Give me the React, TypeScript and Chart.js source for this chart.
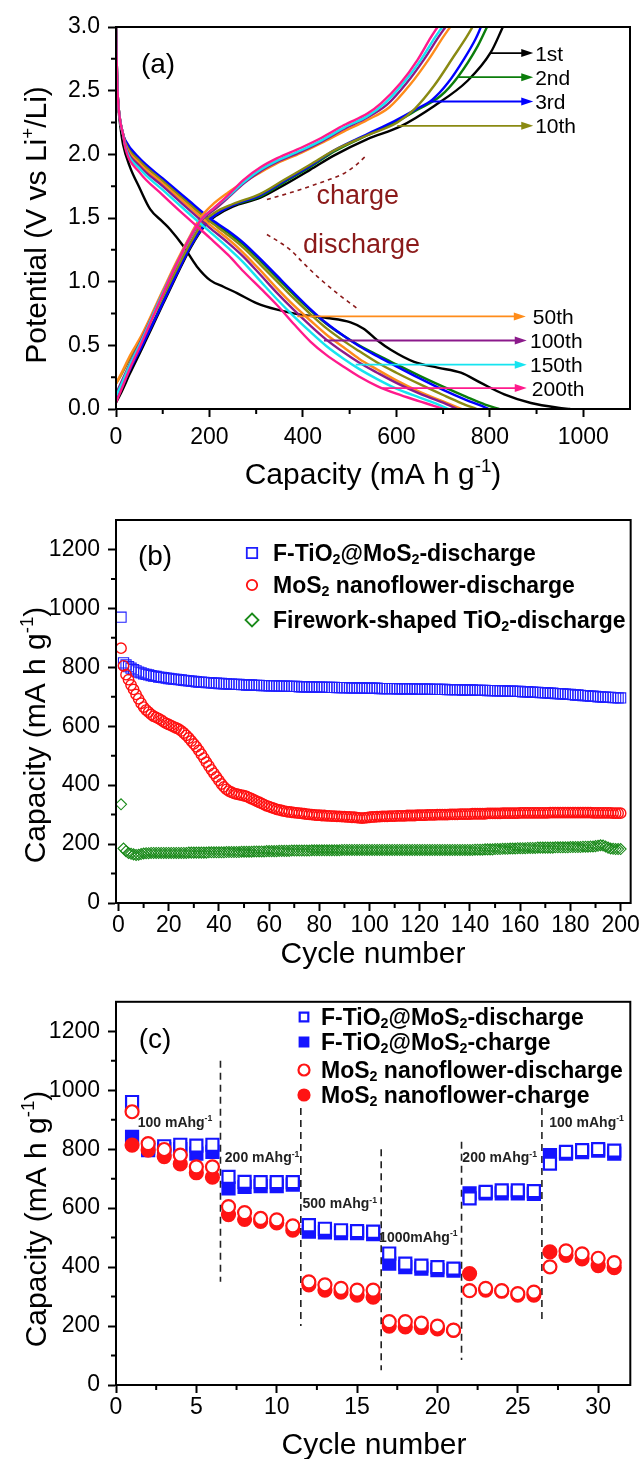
import React, { useEffect, useRef } from 'react';
import { Chart, registerables } from 'chart.js';

Chart.register(...registerables);

const FONT = '"Liberation Sans", Arial, Helvetica, sans-serif';

type XY = [number, number];

// ---------------- Panel (a) data: galvanostatic curves ----------------
const CYCLE_LABELS = ['1st', '2nd', '3rd', '10th', '50th', '100th', '150th', '200th'];
const CYCLE_COLORS = ['#000000', '#0b7d0b', '#0000ff', '#8a8a12', '#ff8c1a', '#8b1a8b', '#16e4f0', '#ff1a8c'];

const DIS_1ST: XY[] = [[0, 3.0], [1, 2.75], [3, 2.5], [6, 2.33], [10, 2.2], [15, 2.08], [30, 1.9], [50, 1.74], [73, 1.57], [100, 1.47], [116, 1.41], [144, 1.28], [173, 1.12], [202, 1.01], [230, 0.96], [259, 0.91], [302, 0.83], [345, 0.78], [388, 0.745], [452, 0.715], [502, 0.68], [530, 0.63], [559, 0.54], [588, 0.465], [638, 0.37], [688, 0.325], [738, 0.285], [781, 0.205], [831, 0.115], [888, 0.047], [946, 0.01], [972, 0]];
const DIS_2ND: XY[] = [[0, 3.0], [1, 2.8], [3, 2.52], [6, 2.35], [10, 2.24], [15, 2.16], [20, 2.1], [50, 1.96], [100, 1.8], [150, 1.645], [200, 1.49], [240, 1.385], [273, 1.29], [310, 1.16], [345, 1.03], [380, 0.9], [416, 0.775], [450, 0.67], [487, 0.575], [520, 0.5], [559, 0.425], [600, 0.35], [650, 0.26], [700, 0.175], [750, 0.095], [790, 0.035], [820, 0]];
const DIS_3RD: XY[] = [[0, 3.0], [1, 2.8], [3, 2.52], [6, 2.35], [10, 2.24], [15, 2.16], [20, 2.11], [50, 1.97], [100, 1.81], [150, 1.655], [200, 1.5], [240, 1.4], [273, 1.305], [310, 1.175], [345, 1.045], [380, 0.915], [416, 0.785], [450, 0.675], [487, 0.575], [520, 0.495], [559, 0.415], [600, 0.335], [650, 0.24], [700, 0.15], [750, 0.07], [780, 0.028], [798, 0]];
const DIS_10TH: XY[] = [[0, 3.0], [1, 2.8], [3, 2.52], [6, 2.35], [10, 2.24], [15, 2.16], [20, 2.09], [50, 1.95], [100, 1.79], [150, 1.63], [200, 1.475], [240, 1.365], [273, 1.265], [310, 1.13], [345, 1.0], [380, 0.87], [416, 0.745], [450, 0.635], [487, 0.535], [520, 0.455], [559, 0.365], [600, 0.285], [650, 0.195], [700, 0.11], [740, 0.045], [772, 0]];
const DIS_50TH: XY[] = [[0, 3.0], [1, 2.8], [3, 2.52], [6, 2.35], [10, 2.24], [15, 2.16], [20, 2.08], [50, 1.93], [100, 1.77], [150, 1.61], [200, 1.45], [240, 1.335], [273, 1.225], [310, 1.085], [345, 0.945], [380, 0.815], [416, 0.695], [450, 0.585], [487, 0.485], [520, 0.395], [559, 0.31], [600, 0.225], [650, 0.135], [700, 0.06], [740, 0]];
const DIS_100TH: XY[] = [[0, 3.0], [1, 2.8], [3, 2.52], [6, 2.35], [10, 2.24], [15, 2.16], [20, 2.07], [50, 1.91], [100, 1.75], [150, 1.585], [200, 1.425], [240, 1.305], [273, 1.195], [310, 1.05], [345, 0.91], [380, 0.78], [416, 0.655], [450, 0.545], [487, 0.445], [520, 0.365], [559, 0.285], [600, 0.205], [650, 0.12], [700, 0.05], [730, 0]];
const DIS_150TH: XY[] = [[0, 3.0], [1, 2.8], [3, 2.52], [6, 2.35], [10, 2.24], [15, 2.16], [20, 2.06], [50, 1.89], [100, 1.72], [150, 1.555], [200, 1.395], [240, 1.265], [273, 1.15], [310, 1.0], [345, 0.86], [380, 0.73], [416, 0.605], [450, 0.495], [487, 0.395], [520, 0.315], [559, 0.235], [600, 0.16], [650, 0.09], [690, 0.035], [712, 0]];
const DIS_200TH: XY[] = [[0, 3.0], [1, 2.8], [3, 2.52], [6, 2.35], [10, 2.24], [15, 2.16], [20, 2.05], [50, 1.86], [100, 1.68], [150, 1.51], [202, 1.34], [240, 1.21], [273, 1.08], [310, 0.945], [345, 0.815], [380, 0.67], [416, 0.53], [450, 0.425], [488, 0.33], [520, 0.255], [559, 0.18], [600, 0.12], [650, 0.06], [680, 0.025], [700, 0]];

const CHG_1ST: XY[] = [[0, 0.05], [10, 0.12], [30, 0.28], [55, 0.47], [100, 0.82], [130, 1.05], [160, 1.27], [190, 1.44], [215, 1.52], [250, 1.59], [309, 1.66], [360, 1.76], [416, 1.88], [466, 1.99], [538, 2.12], [609, 2.22], [681, 2.38], [753, 2.58], [802, 2.8], [828, 3.0]];
const CHG_2ND: XY[] = [[0, 0.1], [10, 0.17], [30, 0.33], [55, 0.5], [100, 0.84], [130, 1.07], [160, 1.28], [190, 1.45], [215, 1.53], [250, 1.6], [309, 1.67], [360, 1.78], [416, 1.9], [466, 2.02], [538, 2.15], [595, 2.245], [645, 2.35], [695, 2.46], [732, 2.61], [774, 2.85], [794, 3.0]];
const CHG_3RD: XY[] = [[0, 0.08], [10, 0.15], [30, 0.31], [55, 0.49], [100, 0.83], [130, 1.06], [160, 1.28], [190, 1.45], [215, 1.53], [250, 1.6], [309, 1.68], [360, 1.79], [416, 1.91], [466, 2.03], [538, 2.16], [595, 2.26], [640, 2.35], [677, 2.43], [710, 2.56], [745, 2.75], [770, 2.91], [781, 3.0]];
const CHG_10TH: XY[] = [[0, 0.2], [10, 0.26], [30, 0.4], [55, 0.56], [100, 0.88], [130, 1.1], [160, 1.31], [185, 1.46], [210, 1.54], [250, 1.61], [309, 1.69], [360, 1.8], [416, 1.92], [466, 2.03], [538, 2.15], [602, 2.25], [640, 2.36], [681, 2.54], [723, 2.77], [750, 2.92], [763, 3.0]];
const CHG_50TH: XY[] = [[0, 0.2], [10, 0.27], [30, 0.42], [55, 0.58], [100, 0.93], [130, 1.16], [160, 1.37], [180, 1.5], [205, 1.6], [240, 1.7], [273, 1.78], [310, 1.86], [345, 1.93], [395, 2.01], [440, 2.09], [488, 2.18], [538, 2.27], [585, 2.37], [630, 2.55], [670, 2.75], [700, 2.92], [715, 3.0]];
const CHG_100TH: XY[] = [[0, 0.12], [10, 0.2], [30, 0.36], [55, 0.55], [100, 0.91], [130, 1.14], [160, 1.35], [185, 1.49], [212, 1.57], [240, 1.66], [273, 1.77], [310, 1.87], [345, 1.94], [395, 2.02], [440, 2.1], [488, 2.2], [538, 2.29], [580, 2.39], [622, 2.56], [660, 2.75], [690, 2.92], [705, 3.0]];
const CHG_150TH: XY[] = [[0, 0.1], [10, 0.18], [30, 0.35], [55, 0.54], [100, 0.91], [130, 1.14], [160, 1.36], [185, 1.5], [210, 1.58], [240, 1.67], [273, 1.78], [310, 1.88], [345, 1.95], [395, 2.03], [440, 2.11], [488, 2.21], [538, 2.3], [575, 2.4], [615, 2.56], [652, 2.74], [683, 2.92], [698, 3.0]];
const CHG_200TH: XY[] = [[0, 0.05], [10, 0.14], [30, 0.32], [55, 0.52], [100, 0.9], [130, 1.14], [160, 1.36], [185, 1.5], [210, 1.58], [240, 1.68], [273, 1.8], [310, 1.9], [345, 1.97], [395, 2.05], [440, 2.13], [488, 2.23], [538, 2.32], [567, 2.4], [609, 2.56], [645, 2.74], [674, 2.92], [688, 3.0]];

const DISCHARGE_CURVES = [DIS_1ST, DIS_2ND, DIS_3RD, DIS_10TH, DIS_50TH, DIS_100TH, DIS_150TH, DIS_200TH];
const CHARGE_CURVES = [CHG_1ST, CHG_2ND, CHG_3RD, CHG_10TH, CHG_50TH, CHG_100TH, CHG_150TH, CHG_200TH];

const CHARGE_GUIDE: XY[] = [[323, 1.645], [370, 1.695], [416, 1.75], [455, 1.8], [488, 1.85], [515, 1.92], [538, 2.0]];
const DISCHARGE_GUIDE: XY[] = [[323, 1.37], [350, 1.31], [373, 1.25], [400, 1.15], [431, 1.04], [473, 0.91], [516, 0.79]];

// arrows (a): level, start, tip, text start
const ARROW_Y = [2.795, 2.606, 2.415, 2.224, 0.727, 0.538, 0.348, 0.164];
const ARROW_FROM = [802, 732, 674, 602, 388, 445, 513, 570];
const ARROW_TO = [893, 893, 893, 893, 877, 879, 879, 879];
const ARROW_TEXT_X = [897, 897, 897, 897, 892, 886, 886, 890];

const XA_MAJOR = [0, 200, 400, 600, 800, 1000];
const XA_MINOR = [100, 300, 500, 700, 900];
const YA_MAJOR = [0, 0.5, 1.0, 1.5, 2.0, 2.5, 3.0];
const YA_MINOR = [0.25, 0.75, 1.25, 1.75, 2.25, 2.75];

// ---------------- Panel (b) data: cycling at one rate ----------------
const CYCLES_B = Array.from({ length: 200 }, (_, i) => i + 1);
const FTIO2_MOS2_B = [
  970, 815, 808, 802, 797, 792, 788, 784, 781, 778,
  776, 774, 772, 770, 769, 767, 766, 765, 763, 762,
  761, 760, 759, 758, 757, 756, 755, 754, 753, 752,
  751, 750, 750, 749, 748, 748, 747, 746, 746, 745,
  745, 744, 744, 743, 743, 742, 742, 742, 741, 741,
  740, 740, 740, 739, 739, 739, 738, 738, 738, 737,
  737, 737, 737, 736, 736, 736, 736, 735, 735, 735,
  735, 734, 734, 734, 734, 734, 733, 733, 733, 733,
  733, 732, 732, 732, 732, 732, 731, 731, 731, 731,
  731, 730, 730, 730, 730, 730, 730, 729, 729, 729,
  729, 729, 729, 728, 728, 728, 728, 728, 728, 728,
  727, 727, 727, 727, 727, 727, 727, 726, 726, 726,
  726, 726, 726, 726, 725, 725, 725, 725, 725, 725,
  724, 724, 724, 724, 724, 724, 723, 723, 723, 723,
  723, 722, 722, 722, 722, 722, 721, 721, 721, 721,
  720, 720, 720, 720, 719, 719, 719, 718, 718, 718,
  717, 717, 717, 716, 716, 715, 715, 714, 714, 713,
  713, 712, 712, 711, 711, 710, 710, 709, 708, 708,
  707, 706, 706, 705, 704, 704, 703, 702, 702, 701,
  700, 700, 699, 699, 698, 698, 697, 697, 696, 696,
];
const MOS2_B = [
  865, 805, 775, 758, 740, 725, 708, 693, 678, 665,
  655, 648, 640, 634, 630, 626, 621, 615, 610, 606,
  602, 598, 594, 590, 584, 577, 569, 560, 550, 540,
  530, 518, 505, 492, 478, 465, 452, 440, 428, 416,
  404, 394, 386, 380, 376, 372, 370, 368, 366, 364,
  362, 358, 354, 350, 346, 342, 338, 334, 330, 327,
  324, 321, 318, 316, 314, 312, 310, 309, 308, 307,
  306, 305, 304, 303, 302, 301, 300, 299, 298, 298,
  297, 297, 296, 296, 295, 295, 294, 294, 293, 293,
  292, 292, 291, 291, 290, 289, 288, 289, 290, 291,
  292, 292, 293, 293, 294, 294, 294, 295, 295, 295,
  296, 296, 296, 296, 297, 297, 297, 297, 298, 298,
  298, 298, 299, 299, 299, 299, 300, 300, 300, 300,
  300, 301, 301, 301, 301, 302, 302, 302, 302, 302,
  303, 303, 303, 303, 303, 303, 304, 304, 304, 304,
  304, 304, 305, 305, 305, 305, 305, 305, 305, 306,
  306, 306, 306, 306, 306, 306, 306, 306, 306, 306,
  306, 307, 307, 307, 307, 307, 307, 307, 307, 307,
  307, 307, 307, 307, 307, 307, 307, 307, 306, 306,
  306, 306, 306, 306, 306, 306, 305, 305, 305, 305,
];
const TIO2_B = [
  335, 185, 176, 170, 167, 165, 163, 164, 166, 168,
  169, 169, 170, 170, 170, 170, 170, 170, 170, 170,
  170, 170, 170, 170, 170, 170, 170, 171, 171, 171,
  171, 171, 171, 171, 171, 172, 172, 172, 172, 172,
  172, 172, 173, 173, 173, 173, 173, 173, 174, 174,
  174, 174, 174, 175, 175, 175, 175, 175, 176, 176,
  176, 176, 176, 177, 177, 177, 177, 177, 178, 178,
  178, 178, 178, 178, 178, 178, 179, 179, 179, 179,
  179, 179, 179, 179, 179, 179, 179, 179, 180, 180,
  180, 180, 180, 180, 180, 180, 180, 180, 180, 180,
  180, 180, 180, 180, 180, 180, 180, 180, 180, 180,
  180, 180, 180, 180, 180, 180, 180, 180, 180, 180,
  180, 180, 180, 180, 180, 180, 180, 180, 180, 180,
  180, 180, 180, 180, 180, 180, 180, 180, 180, 180,
  180, 181, 181, 181, 181, 182, 182, 182, 182, 183,
  183, 183, 184, 184, 184, 185, 185, 185, 186, 186,
  186, 186, 187, 187, 187, 187, 188, 188, 188, 188,
  188, 188, 188, 189, 189, 189, 189, 189, 189, 190,
  190, 190, 190, 190, 191, 191, 191, 192, 192, 193,
  194, 196, 195, 192, 188, 185, 184, 183, 183, 183,
];

const XB_MAJOR = [0, 20, 40, 60, 80, 100, 120, 140, 160, 180, 200];
const XB_MINOR = [10, 30, 50, 70, 90, 110, 130, 150, 170, 190];
const Y_CAP_MAJOR = [0, 200, 400, 600, 800, 1000, 1200];
const Y_CAP_MINOR = [100, 300, 500, 700, 900, 1100];

// ---------------- Panel (c) data: rate capability ----------------
const CYCLES_C = Array.from({ length: 31 }, (_, i) => i + 1);
const F_DIS_C = [960, 805, 810, 815, 812, 815, 706, 689, 688, 688, 688, 542, 530, 525, 522, 520, 446, 412, 405, 400, 395, 633, 655, 660, 660, 658, 751, 791, 797, 800, 795];
const F_CHG_C = [842, 797, 800, 800, 785, 791, 667, 672, 675, 675, 680, 520, 518, 515, 515, 512, 412, 400, 395, 390, 388, 650, 650, 650, 650, 648, 780, 785, 790, 795, 785];
const M_DIS_C = [927, 819, 799, 780, 740, 740, 605, 585, 565, 560, 540, 350, 340, 328, 322, 322, 215, 215, 210, 200, 186, 320, 328, 320, 310, 315, 401, 455, 445, 430, 415];
const M_CHG_C = [814, 797, 775, 750, 720, 705, 578, 562, 555, 550, 525, 340, 322, 315, 305, 298, 200, 197, 195, 190, 185, 378, 322, 318, 305, 305, 452, 440, 428, 405, 398];

const RATE_DIVIDER_X = [6.5, 11.5, 16.5, 21.5, 26.5];
const RATE_DIVIDER_TOP = [1100, 940, 800, 825, 940];
const RATE_DIVIDER_BOTTOM = [350, 200, 50, 85, 210];
const RATE_TEXT = ['100 mAhg', '200 mAhg', '500 mAhg', '1000mAhg', '200 mAhg', '100 mAhg'];
const RATE_TEXT_X = [1.35, 6.77, 11.6, 16.37, 21.55, 26.96];
const RATE_TEXT_Y = [893, 773, 617, 503, 773, 893];

const XC_MAJOR = [0, 5, 10, 15, 20, 25, 30];
const XC_MINOR = [2.5, 7.5, 12.5, 17.5, 22.5, 27.5];

// ---------------- drawing helpers ----------------
type Part = { t: string; s?: 'sup' | 'sub' };

function partFont(p: Part, size: number, weight: string) {
  const fs = p.s ? size * 0.62 : size;
  return `${weight} ${fs}px ${FONT}`;
}

function drawRich(ctx: CanvasRenderingContext2D, parts: Part[], x: number, y: number, size: number,
  opt: { weight?: string; color?: string; align?: 'left' | 'center'; rotate?: boolean; baseline?: boolean } = {}) {
  const weight = opt.weight || 'normal';
  ctx.save();
  ctx.translate(x, y);
  if (opt.rotate) ctx.rotate(-Math.PI / 2);
  let w = 0;
  for (const p of parts) { ctx.font = partFont(p, size, weight); w += ctx.measureText(p.t).width; }
  let cx = opt.align === 'center' ? -w / 2 : 0;
  ctx.textBaseline = 'alphabetic';
  ctx.textAlign = 'left';
  ctx.fillStyle = opt.color || '#000';
  const base = opt.baseline ? 0 : size * 0.36;
  for (const p of parts) {
    ctx.font = partFont(p, size, weight);
    const dy = p.s === 'sup' ? -size * 0.4 : p.s === 'sub' ? size * 0.1 : 0;
    ctx.fillText(p.t, cx, base + dy);
    cx += ctx.measureText(p.t).width;
  }
  ctx.restore();
}

function drawMarker(ctx: CanvasRenderingContext2D, kind: string, x: number, y: number, r: number,
  color: string, filled: boolean, lw: number) {
  ctx.save();
  ctx.lineWidth = lw;
  ctx.strokeStyle = color;
  ctx.fillStyle = color;
  ctx.beginPath();
  if (kind === 'rect') ctx.rect(x - r, y - r, 2 * r, 2 * r);
  else if (kind === 'circle') ctx.arc(x, y, r, 0, Math.PI * 2);
  else { ctx.moveTo(x, y - r); ctx.lineTo(x + r, y); ctx.lineTo(x, y + r); ctx.lineTo(x - r, y); ctx.closePath(); }
  if (filled) ctx.fill();
  ctx.stroke();
  ctx.restore();
}

const CAPACITY_TITLE: Part[] = [{ t: 'Capacity (mA h g' }, { t: '-1', s: 'sup' }, { t: ')' }];
const POTENTIAL_TITLE: Part[] = [{ t: 'Potential (V vs Li' }, { t: '+', s: 'sup' }, { t: '/Li)' }];
const CYCLE_TITLE: Part[] = [{ t: 'Cycle number' }];

function makeAxis(pos: 'left' | 'bottom', min: number, max: number, major: number[], size: number,
  padding: number, fmt: (v: number) => string) {
  return {
    type: 'linear',
    position: pos,
    min,
    max,
    afterBuildTicks: (s: any) => { s.ticks = major.map((v) => ({ value: v })); },
    afterFit: (s: any) => { if (pos === 'left') s.width = size; else s.height = size; },
    ticks: {
      autoSkip: false,
      maxRotation: 0,
      padding,
      color: '#000',
      font: { family: FONT, size: 23 },
      callback: (v: any) => fmt(Number(v)),
    },
    grid: { drawOnChartArea: false, drawTicks: true, tickLength: 8, tickWidth: 2, tickColor: '#000' },
    border: { display: true, color: '#000', width: 2 },
  };
}

function makeDecor(cfg: {
  xMinor: number[]; yMinor: number[];
  xTitle: { parts: Part[]; x: number; y: number };
  yTitle: { parts: Part[]; x: number; y: number };
  extra?: (chart: any, ctx: CanvasRenderingContext2D) => void;
}) {
  return {
    id: 'decor',
    afterDatasetsDraw(chart: any) {
      const { ctx, chartArea: ca, scales } = chart;
      ctx.save();
      ctx.strokeStyle = '#000';
      ctx.lineWidth = 2;
      ctx.strokeRect(ca.left, ca.top, ca.right - ca.left, ca.bottom - ca.top);
      ctx.beginPath();
      cfg.xMinor.forEach((v) => { const px = scales.x.getPixelForValue(v); ctx.moveTo(px, ca.bottom); ctx.lineTo(px, ca.bottom + 5); });
      cfg.yMinor.forEach((v) => { const py = scales.y.getPixelForValue(v); ctx.moveTo(ca.left, py); ctx.lineTo(ca.left - 5, py); });
      ctx.stroke();
      drawRich(ctx, cfg.xTitle.parts, cfg.xTitle.x, cfg.xTitle.y, 30, { align: 'center' });
      drawRich(ctx, cfg.yTitle.parts, cfg.yTitle.x, cfg.yTitle.y, 30, { align: 'center', rotate: true });
      if (cfg.extra) cfg.extra(chart, ctx);
      ctx.restore();
    },
  };
}

function baseOptions(padding: any, x: any, y: any) {
  return {
    responsive: false,
    animation: false,
    devicePixelRatio: 1,
    layout: { padding },
    plugins: { legend: { display: false }, tooltip: { enabled: false } },
    scales: { x, y },
  };
}

const toPts = (arr: XY[]) => arr.map(([x, y]) => ({ x, y }));

// ---------------- chart configs ----------------
function buildA(): any {
  const datasets: any[] = [];
  for (let i = CYCLE_LABELS.length - 1; i >= 0; i--) {
    [DISCHARGE_CURVES[i], CHARGE_CURVES[i]].forEach((curve, k) => {
      datasets.push({
        label: `${CYCLE_LABELS[i]}-${k === 0 ? 'discharge' : 'charge'}`,
        data: toPts(curve),
        showLine: true,
        borderColor: CYCLE_COLORS[i],
        borderWidth: 2.4,
        pointRadius: 0,
        fill: false,
        cubicInterpolationMode: 'monotone',
      });
    });
  }
  [CHARGE_GUIDE, DISCHARGE_GUIDE].forEach((g, k) => {
    datasets.unshift({
      label: k === 0 ? 'charge guide' : 'discharge guide',
      data: toPts(g),
      showLine: true,
      borderColor: '#8b1a1a',
      borderWidth: 1.6,
      borderDash: [4, 4],
      pointRadius: 0,
      cubicInterpolationMode: 'monotone',
    });
  });
  const decor = makeDecor({
    xMinor: XA_MINOR,
    yMinor: YA_MINOR,
    xTitle: { parts: CAPACITY_TITLE, x: 373, y: 473 },
    yTitle: { parts: POTENTIAL_TITLE, x: 35, y: 225 },
    extra: (chart, ctx) => {
      const { x, y } = chart.scales;
      ARROW_Y.forEach((lv, i) => {
        const x0 = x.getPixelForValue(ARROW_FROM[i]);
        const x1 = x.getPixelForValue(ARROW_TO[i]);
        const py = y.getPixelForValue(lv);
        ctx.strokeStyle = CYCLE_COLORS[i];
        ctx.fillStyle = CYCLE_COLORS[i];
        ctx.lineWidth = 1.8;
        ctx.beginPath(); ctx.moveTo(x0, py); ctx.lineTo(x1 - 8, py); ctx.stroke();
        ctx.beginPath(); ctx.moveTo(x1, py); ctx.lineTo(x1 - 12, py - 4); ctx.lineTo(x1 - 12, py + 4); ctx.closePath(); ctx.fill();
        drawRich(ctx, [{ t: CYCLE_LABELS[i] }], x.getPixelForValue(ARROW_TEXT_X[i]), py, 21);
      });
      drawRich(ctx, [{ t: 'charge' }], x.getPixelForValue(429), y.getPixelForValue(1.61), 27, { color: '#8b1a1a', baseline: true });
      drawRich(ctx, [{ t: 'discharge' }], x.getPixelForValue(400), y.getPixelForValue(1.225), 27, { color: '#8b1a1a', baseline: true });
      drawRich(ctx, [{ t: '(a)' }], 158, 63, 28, { align: 'center' });
    },
  });
  return {
    type: 'scatter',
    data: { datasets },
    options: baseOptions({ top: 27, right: 11, left: 0, bottom: 0 },
      makeAxis('bottom', 0, 1100, XA_MAJOR, 81, 7, (v) => String(v)),
      makeAxis('left', 0, 3, YA_MAJOR, 116, 8, (v) => v.toFixed(1))),
    plugins: [decor],
  };
}

const LEGEND_B: Part[][] = [
  [{ t: 'F-TiO' }, { t: '2', s: 'sub' }, { t: '@MoS' }, { t: '2', s: 'sub' }, { t: '-discharge' }],
  [{ t: 'MoS' }, { t: '2', s: 'sub' }, { t: ' nanoflower-discharge' }],
  [{ t: 'Firework-shaped TiO' }, { t: '2', s: 'sub' }, { t: '-discharge' }],
];
const COLORS_B = ['#1f1fff', '#ff1010', '#1a8a1a'];

function buildB(): any {
  const pts = (vals: number[]) => vals.map((v, i) => ({ x: CYCLES_B[i], y: v }));
  const datasets = [
    { label: 'MoS2 nanoflower-discharge', data: pts(MOS2_B), pointStyle: 'circle', pointRadius: 5.2, borderColor: COLORS_B[1], borderWidth: 1.4, backgroundColor: 'rgba(0,0,0,0)' },
    { label: 'F-TiO2@MoS2-discharge', data: pts(FTIO2_MOS2_B), pointStyle: 'rect', pointRadius: 7.2, borderColor: COLORS_B[0], borderWidth: 1.1, backgroundColor: 'rgba(0,0,0,0)' },
    { label: 'Firework-shaped TiO2-discharge', data: pts(TIO2_B), pointStyle: 'rectRot', pointRadius: 5.5, borderColor: COLORS_B[2], borderWidth: 1.1, backgroundColor: 'rgba(0,0,0,0)' },
  ];
  const kinds = ['rect', 'circle', 'diamond'];
  const decor = makeDecor({
    xMinor: XB_MINOR,
    yMinor: Y_CAP_MINOR,
    xTitle: { parts: CYCLE_TITLE, x: 373, y: 462 },
    yTitle: { parts: CAPACITY_TITLE, x: 34, y: 245 },
    extra: (_chart, ctx) => {
      const rows = [63, 95, 130];
      LEGEND_B.forEach((parts, i) => {
        drawMarker(ctx, kinds[i], 252, rows[i], i === 2 ? 6.5 : 5.2, COLORS_B[i], false, 1.8);
        drawRich(ctx, parts, 273, rows[i], 23, { weight: 'bold' });
      });
      drawRich(ctx, [{ t: '(b)' }], 155, 65, 28, { align: 'center' });
    },
  });
  return {
    type: 'scatter',
    data: { datasets },
    options: baseOptions({ top: 30, right: 10, left: 0, bottom: 0 },
      makeAxis('bottom', -1, 204, XB_MAJOR, 77, 1, (v) => String(v)),
      makeAxis('left', 0, 1300, Y_CAP_MAJOR, 116, 8, (v) => String(v))),
    plugins: [decor],
  };
}

const LEGEND_C: Part[][] = [
  [{ t: 'F-TiO' }, { t: '2', s: 'sub' }, { t: '@MoS' }, { t: '2', s: 'sub' }, { t: '-discharge' }],
  [{ t: 'F-TiO' }, { t: '2', s: 'sub' }, { t: '@MoS' }, { t: '2', s: 'sub' }, { t: '-charge' }],
  [{ t: 'MoS' }, { t: '2', s: 'sub' }, { t: ' nanoflower-discharge' }],
  [{ t: 'MoS' }, { t: '2', s: 'sub' }, { t: ' nanoflower-charge' }],
];
const BLUE_C = '#1414ff';
const RED_C = '#ff1414';

function buildC(): any {
  const pts = (vals: number[]) => vals.map((v, i) => ({ x: CYCLES_C[i], y: v }));
  const datasets: any[] = [
    { label: 'MoS2 nanoflower-discharge', data: pts(M_DIS_C), pointStyle: 'circle', pointRadius: 6.5, borderColor: RED_C, borderWidth: 2.2, backgroundColor: '#ffffff' },
    { label: 'MoS2 nanoflower-charge', data: pts(M_CHG_C), pointStyle: 'circle', pointRadius: 6.5, borderColor: RED_C, borderWidth: 2.2, backgroundColor: RED_C },
    { label: 'F-TiO2@MoS2-discharge', data: pts(F_DIS_C), pointStyle: 'rect', pointRadius: 8.5, borderColor: BLUE_C, borderWidth: 2.2, backgroundColor: '#ffffff' },
    { label: 'F-TiO2@MoS2-charge', data: pts(F_CHG_C), pointStyle: 'rect', pointRadius: 8.5, borderColor: BLUE_C, borderWidth: 2.2, backgroundColor: BLUE_C },
  ];
  RATE_DIVIDER_X.forEach((xv, i) => {
    datasets.push({
      label: `divider ${i + 1}`,
      data: [{ x: xv, y: RATE_DIVIDER_TOP[i] }, { x: xv, y: RATE_DIVIDER_BOTTOM[i] }],
      showLine: true,
      borderColor: '#222',
      borderWidth: 1.6,
      borderDash: [7, 5],
      pointRadius: 0,
    });
  });
  const decor = makeDecor({
    xMinor: XC_MINOR,
    yMinor: Y_CAP_MINOR,
    xTitle: { parts: CYCLE_TITLE, x: 374, y: 463 },
    yTitle: { parts: CAPACITY_TITLE, x: 35, y: 239 },
    extra: (chart, ctx) => {
      const { x, y } = chart.scales;
      RATE_TEXT.forEach((t, i) => {
        drawRich(ctx, [{ t }, { t: '-1', s: 'sup' }], x.getPixelForValue(RATE_TEXT_X[i]), y.getPixelForValue(RATE_TEXT_Y[i]), 14, { weight: 'bold', color: '#222' });
      });
      const rows = [37, 62, 90, 115];
      const kinds = ['rect', 'rect', 'circle', 'circle'];
      const cols = [BLUE_C, BLUE_C, RED_C, RED_C];
      LEGEND_C.forEach((parts, i) => {
        drawMarker(ctx, kinds[i], 304, rows[i], kinds[i] === 'rect' ? 4.3 : 5.5, cols[i], i % 2 === 1, 2.2);
        drawRich(ctx, parts, 321, rows[i], 23, { weight: 'bold' });
      });
      drawRich(ctx, [{ t: '(c)' }], 155, 58, 28, { align: 'center' });
    },
  });
  return {
    type: 'scatter',
    data: { datasets },
    options: baseOptions({ top: 21, right: 10, left: 0, bottom: 0 },
      makeAxis('bottom', 0, 32, XC_MAJOR, 74, 1, (v) => String(v)),
      makeAxis('left', 0, 1300, Y_CAP_MAJOR, 116, 8, (v) => String(v))),
    plugins: [decor],
  };
}

function Panel({ top, height, build }: { top: number; height: number; build: () => any }) {
  const ref = useRef<HTMLCanvasElement>(null);
  useEffect(() => {
    const chart = new Chart(ref.current as HTMLCanvasElement, build());
    return () => chart.destroy();
  }, []);
  return (
    <canvas ref={ref} width={641} height={height}
      style={{ position: 'absolute', left: 0, top, width: 641, height, display: 'block' }} />
  );
}

export default function App() {
  return (
    <div style={{ position: 'absolute', left: 0, top: 0, width: 641, height: 1459, background: '#fff' }}>
      <Panel top={0} height={490} build={buildA} />
      <Panel top={490} height={490} build={buildB} />
      <Panel top={980} height={479} build={buildC} />
    </div>
  );
}
